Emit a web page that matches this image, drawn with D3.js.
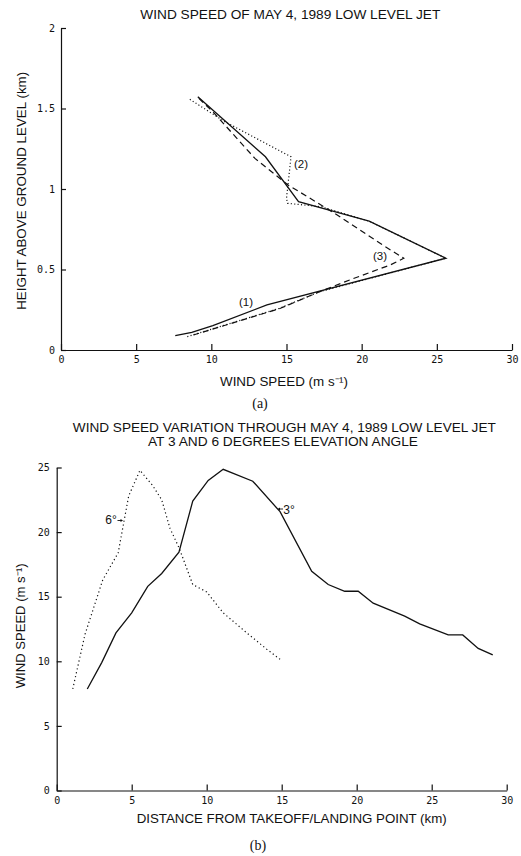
<!DOCTYPE html>
<html><head><meta charset="utf-8">
<script src="https://cdn.jsdelivr.net/npm/d3@7"></script>
<style>
body{margin:0;background:#fff;}
svg{display:block;}
.tick text{font-family:"DejaVu Sans Mono",monospace;font-size:10px;fill:#111;}
.domain,.tick line{stroke:#111;stroke-width:1.2;}
</style></head>
<body>
<svg id="c" width="521" height="856"></svg>
<script>
// ---------- Chart (a): wind speed profile ----------
const aXTicks = [0,5,10,15,20,25,30];
const aYTicks = [0,0.5,1,1.5,2];
const aYTickLabels = ["0","0.5","1","1.5","2"];
// profile (1) solid
const p1Speed  = [7.6,8.7,10.1,13.7,25.6,20.5,15.8,13.6,9.1];
const p1Height = [0.089,0.11,0.152,0.28,0.57,0.80,0.921,1.20,1.573];
// profile (2) dotted
const p2Speed  = [8.4,11.6,14.5,17.2,25.6,20.5,17.3,15.07,15.0,15.3,10.9,8.47];
const p2Height = [0.083,0.175,0.258,0.362,0.57,0.80,0.89,0.911,0.942,1.20,1.418,1.563];
// profile (3) dashed
const p3Speed  = [8.8,11.7,14.6,17.2,19.2,21.9,22.8,21.4,18.2,16.4,15.1,12.9,10.2,9.1];
const p3Height = [0.093,0.176,0.259,0.362,0.435,0.528,0.57,0.652,0.849,0.952,1.025,1.19,1.47,1.57];

// ---------- Chart (b): speed along glide path ----------
const bXTicks = [0,5,10,15,20,25,30];
const bYTicks = [0,5,10,15,20,25];
const dist3  = [2.04,3.0,3.95,5.0,6.07,7.0,8.15,9.07,10.1,11.1,13.07,14.89,17.0,18.1,19.2,20.1,21.1,23.2,24.2,26.1,27.07,28.1,29.07];
const speed3 = [7.86,9.9,12.2,13.75,15.8,16.8,18.45,22.4,24.0,24.86,23.94,21.58,16.96,15.94,15.42,15.42,14.5,13.5,12.9,12.04,12.04,11.0,10.5];
const dist6  = [1.07,1.89,3.07,4.1,4.44,4.8,5.55,6.4,7.0,7.55,8.17,9.07,10.0,11.1,12.67,14.0,14.95];
const speed6 = [7.86,12.1,16.3,18.4,20.55,22.8,24.78,23.6,22.5,20.3,18.75,15.94,15.37,13.75,12.2,10.94,10.1];

const svg = d3.select("#c");
const ink = "#111";
const sans = "'Liberation Sans', Arial, sans-serif";

function txt(x,y,s,opt={}){
  const t = svg.append("text").attr("x",x).attr("y",y).text(s)
    .attr("font-family",opt.family||sans).attr("font-size",opt.size||12)
    .attr("fill",ink).attr("text-anchor",opt.anchor||"middle");
  if(opt.len){t.attr("textLength",opt.len).attr("lengthAdjust","spacingAndGlyphs");}
  if(opt.rot){t.attr("transform",`rotate(-90,${x},${y})`);}
  return t;
}
function zip(a,b){return a.map((v,i)=>[v,b[i]]);}

// ----- (a) -----
const ax = d3.scaleLinear().domain([0,30]).range([61,512]);
const ay = d3.scaleLinear().domain([0,2]).range([350,28]);
svg.append("g").attr("transform","translate(0,350)")
  .call(d3.axisBottom(ax).tickValues(aXTicks).tickSizeInner(-6).tickSizeOuter(0).tickPadding(6));
svg.append("g").attr("transform","translate(61,0)")
  .call(d3.axisLeft(ay).tickValues(aYTicks).tickFormat((d,i)=>aYTickLabels[i]).tickSizeInner(-5).tickSizeOuter(0).tickPadding(6));

const aLine = d3.line().x(d=>ax(d[0])).y(d=>ay(d[1]));
svg.append("path").attr("d",aLine(zip(p2Speed,p2Height))).attr("fill","none")
  .attr("stroke",ink).attr("stroke-width",1.2).attr("stroke-dasharray","1.1,2.3");
svg.append("path").attr("d",aLine(zip(p3Speed,p3Height))).attr("fill","none")
  .attr("stroke",ink).attr("stroke-width",1.2).attr("stroke-dasharray","6,4");
svg.append("path").attr("d",aLine(zip(p1Speed,p1Height))).attr("fill","none")
  .attr("stroke",ink).attr("stroke-width",1.3);

txt(290.3,19.3,"WIND SPEED OF MAY 4, 1989 LOW LEVEL JET",{len:300});
txt(284,386,"WIND SPEED (m s\u207B\u00B9)",{len:128});
txt(26,190.8,"HEIGHT ABOVE GROUND LEVEL (km)",{rot:true,len:238});
txt(260,408,"(a)",{family:"'Liberation Serif','Times New Roman',serif",size:14});
txt(246,306,"(1)",{size:11.5});
txt(301,167.5,"(2)",{size:11.5});
txt(380,260,"(3)",{size:11.5});

// ----- (b) -----
const bx = d3.scaleLinear().domain([0,30]).range([56.7,506.7]);
const by = d3.scaleLinear().domain([0,25]).range([790.5,467.5]);
svg.append("g").attr("transform","translate(0,790.5)")
  .call(d3.axisBottom(bx).tickValues(bXTicks).tickSizeInner(-6).tickSizeOuter(0).tickPadding(6));
svg.append("g").attr("transform","translate(56.7,0)")
  .call(d3.axisLeft(by).tickValues(bYTicks).tickSizeInner(-5).tickSizeOuter(0).tickPadding(7));

const bLine = d3.line().x(d=>bx(d[0])).y(d=>by(d[1]));
svg.append("path").attr("d",bLine(zip(dist6,speed6))).attr("fill","none")
  .attr("stroke",ink).attr("stroke-width",1.2).attr("stroke-dasharray","1.2,2.8");
svg.append("path").attr("d",bLine(zip(dist3,speed3))).attr("fill","none")
  .attr("stroke",ink).attr("stroke-width",1.3);

txt(284.3,431.7,"WIND SPEED VARIATION THROUGH MAY 4, 1989 LOW LEVEL JET",{len:423});
txt(283,446,"AT 3 AND 6 DEGREES ELEVATION ANGLE",{len:270});
txt(291.7,823.3,"DISTANCE FROM TAKEOFF/LANDING POINT (km)",{len:310});
txt(25,625.8,"WIND SPEED (m s\u207B\u00B9)",{rot:true,len:125});
txt(258,850,"(b)",{family:"'Liberation Serif','Times New Roman',serif",size:14});

// annotations with small arrows
txt(111,524,"6\u00B0",{size:12});
svg.append("line").attr("x1",117.5).attr("y1",520.5).attr("x2",122).attr("y2",520.5).attr("stroke",ink).attr("stroke-width",0.9);
svg.append("path").attr("d","M123,520.5 L120.5,519 L120.5,522 Z").attr("fill",ink);
txt(289,513.5,"3\u00B0",{size:12});
svg.append("line").attr("x1",283).attr("y1",509).attr("x2",279).attr("y2",509).attr("stroke",ink).attr("stroke-width",0.9);
svg.append("path").attr("d","M277.5,509 L280,507.5 L280,510.5 Z").attr("fill",ink);
</script>
</body></html>
